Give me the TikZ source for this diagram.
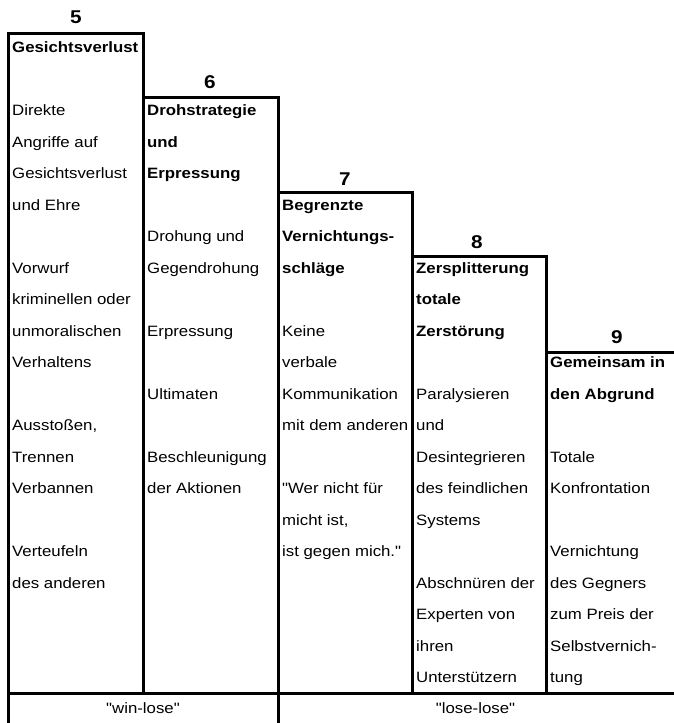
\documentclass[tikz,border=0pt]{standalone}
\usepackage{fontspec}
\newfontfamily\af{Liberation Sans}[FakeStretch=1.12]
\begin{document}
\begin{tikzpicture}[x=1pt,y=-1pt,
  frame/.style={line width=3pt,line join=miter},
  txt/.style={anchor=base west,inner sep=0pt,font=\af\fontsize{15}{17}\selectfont},
  hd/.style={txt,font=\af\fontsize{15}{17}\selectfont\bfseries},
  num/.style={anchor=center,inner sep=0pt,font=\af\fontsize{18.5}{20}\selectfont\bfseries},
  lbl/.style={anchor=base,inner sep=0pt,font=\af\fontsize{15}{17}\selectfont}]
\useasboundingbox (0,0) rectangle (673,723);
% frames
\draw[frame] (8,724) -- (8,33) -- (143.5,33) -- (143.5,693);
\draw[frame] (143.5,97) -- (278,97) -- (278,724);
\draw[frame] (278,192) -- (412,192) -- (412,693);
\draw[frame] (412,256) -- (546,256) -- (546,693);
\draw[frame] (546,352) -- (674,352);
\draw[frame] (8,693) -- (674,693);
% numbers
\node[num] (n5) at (76,17) {5};
\node[num] (n6) at (210,82) {6};
\node[num] (n7) at (345,179) {7};
\node[num] (n8) at (477,242) {8};
\node[num] (n9) at (617,337) {9};
% column 5
\foreach \r/\t in {0/Gesichtsverlust}
  \node[hd] (h5-\r) at (12,52.5+31.5*\r) {\t};
\foreach \r/\t in {2/Direkte,3/Angriffe auf,4/Gesichtsverlust,5/und Ehre,7/Vorwurf,8/kriminellen oder,9/unmoralischen,10/Verhaltens,12/{Ausstoßen,},13/Trennen,14/Verbannen,16/Verteufeln,17/des anderen}
  \node[txt] (t5-\r) at (12,52.5+31.5*\r) {\t};
% column 6
\foreach \r/\t in {2/Drohstrategie,3/und,4/Erpressung}
  \node[hd] (h6-\r) at (147,52.5+31.5*\r) {\t};
\foreach \r/\t in {6/Drohung und,7/Gegendrohung,9/Erpressung,11/Ultimaten,13/Beschleunigung,14/der Aktionen}
  \node[txt] (t6-\r) at (147,52.5+31.5*\r) {\t};
% column 7
\foreach \r/\t in {5/Begrenzte,6/Vernichtungs-,7/schläge}
  \node[hd] (h7-\r) at (282,52.5+31.5*\r) {\t};
\foreach \r/\t in {9/Keine,10/verbale,11/Kommunikation,12/mit dem anderen,14/"Wer nicht für,15/{micht ist,},16/ist gegen mich."}
  \node[txt] (t7-\r) at (282,52.5+31.5*\r) {\t};
% column 8
\foreach \r/\t in {7/Zersplitterung,8/totale,9/Zerstörung}
  \node[hd] (h8-\r) at (416,52.5+31.5*\r) {\t};
\foreach \r/\t in {11/Paralysieren,12/und,13/Desintegrieren,14/des feindlichen,15/Systems,17/Abschnüren der,18/Experten von,19/ihren,20/Unterstützern}
  \node[txt] (t8-\r) at (416,52.5+31.5*\r) {\t};
% column 9
\foreach \r/\t in {10/Gemeinsam in,11/den Abgrund}
  \node[hd] (h9-\r) at (550,52.5+31.5*\r) {\t};
\foreach \r/\t in {13/Totale,14/Konfrontation,16/Vernichtung,17/des Gegners,18/zum Preis der,19/Selbstvernich-,20/tung}
  \node[txt] (t9-\r) at (550,52.5+31.5*\r) {\t};
% bottom labels
\node[lbl] (wl) at (143,713.5) {"win-lose"};
\node[lbl] (ll) at (475.5,713.5) {"lose-lose"};
\end{tikzpicture}
\end{document}
